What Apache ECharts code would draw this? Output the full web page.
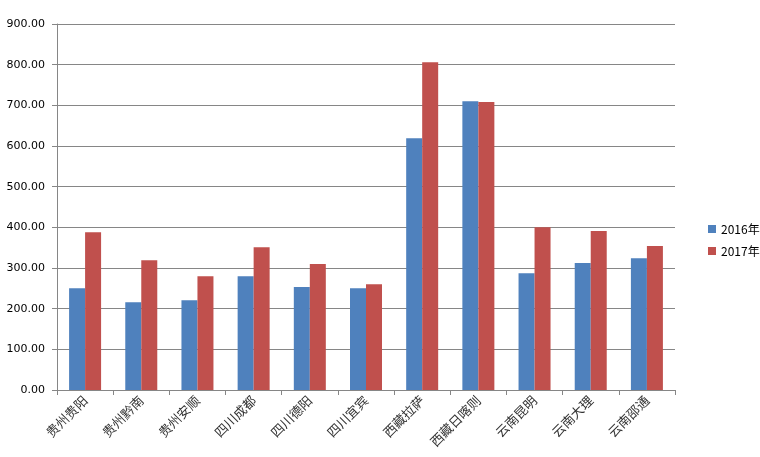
<!DOCTYPE html>
<html><head><meta charset="utf-8">
<script src="https://cdn.jsdelivr.net/npm/echarts@6/dist/echarts.min.js"></script>
<style>html,body{margin:0;padding:0;background:#fff}#c{width:760px;height:457px}</style>
</head><body><div id="c"></div>
<script>
var categories = ['贵州贵阳','贵州黔南','贵州安顺','四川成都','四川德阳','四川宜宾','西藏拉萨','西藏日喀则','云南昆明','云南大理','云南邵通'];
var values2016 = [250, 216, 221, 280, 253, 250, 619, 710, 287, 312, 324];
var values2017 = [388, 319, 280, 351, 310, 260, 806, 708, 400, 391, 354];
var seriesNames = ['2016年', '2017年'];

var chart = echarts.init(document.getElementById('c'));
chart.setOption({
  animation: false,
  backgroundColor: '#fff',
  grid: {left: 57, right: 85, top: 24, bottom: 67, containLabel: false},
  legend: {
    orient: 'vertical', left: 703, top: 218,
    itemWidth: 8, itemHeight: 8, itemGap: 10,
    icon: 'rect',
    textStyle: {fontSize: 12, color: '#000', fontFamily: 'Noto Sans CJK SC'},
    data: seriesNames
  },
  xAxis: {
    type: 'category', data: categories,
    axisLine: {lineStyle: {color: '#868686'}},
    axisTick: {show: true, alignWithLabel: false, length: 5, lineStyle: {color: '#868686'}},
    axisLabel: {rotate: 45, interval: 0, fontSize: 13, color: '#333', margin: 8, fontFamily: 'Noto Sans CJK SC'}
  },
  yAxis: {
    type: 'value', min: 0, max: 900, interval: 100,
    axisLine: {show: true, lineStyle: {color: '#868686'}},
    axisTick: {show: true, length: 5, lineStyle: {color: '#868686'}},
    splitLine: {lineStyle: {color: '#868686', width: 1}},
    axisLabel: {fontSize: 11, color: '#000', margin: 12, fontFamily: 'DejaVu Sans',
      formatter: function(v){ return v.toFixed(2); }}
  },
  series: [
    {name: seriesNames[0], type: 'bar', data: values2016, barWidth: 16, barGap: '0%', itemStyle: {color: '#4F81BD'}},
    {name: seriesNames[1], type: 'bar', data: values2017, barWidth: 16, barGap: '0%', itemStyle: {color: '#C0504D'}}
  ]
});
</script></body></html>
